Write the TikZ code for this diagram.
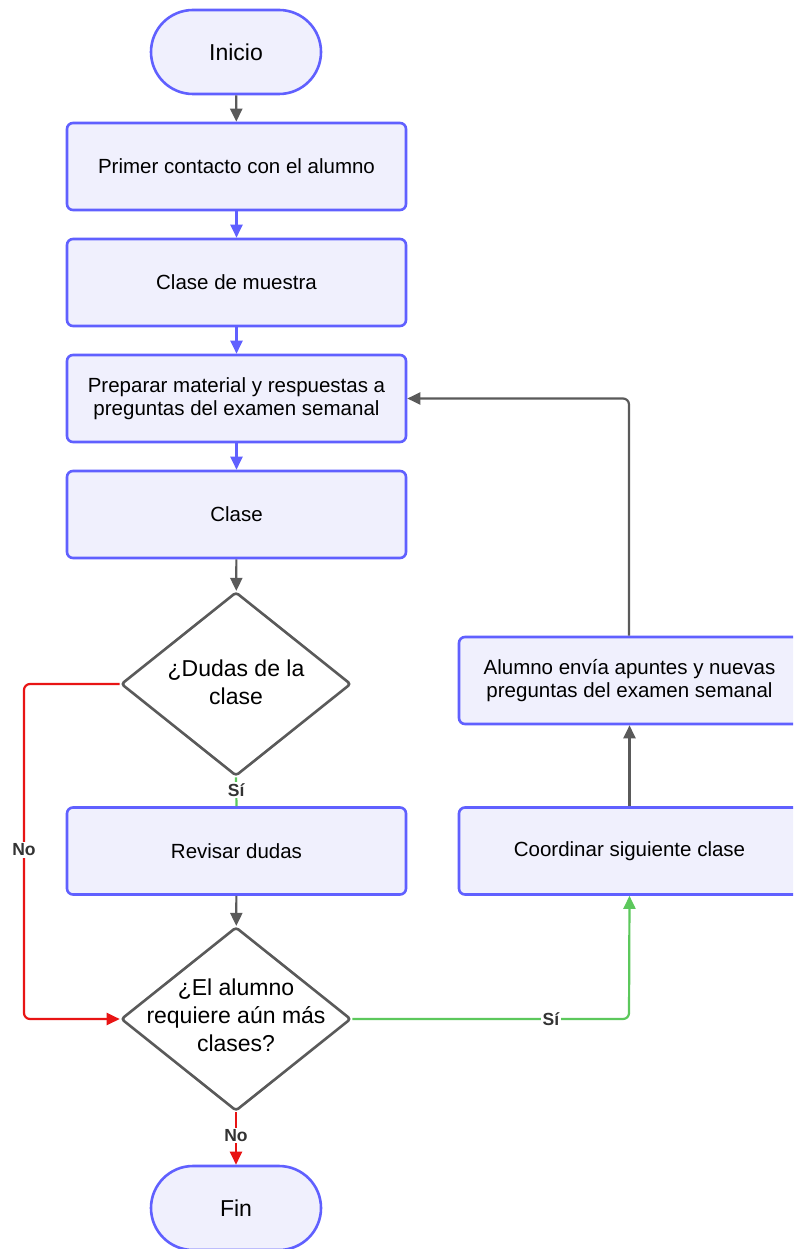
\documentclass[tikz,border=0pt]{standalone}
\usepackage{fontspec}
\setmainfont{Liberation Sans}
\usetikzlibrary{arrows.meta,shapes.geometric}
\definecolor{bstroke}{RGB}{96,96,255}
\definecolor{bfill}{RGB}{240,240,253}
\definecolor{gline}{RGB}{90,90,90}
\definecolor{rline}{RGB}{232,20,20}
\definecolor{grline}{RGB}{92,200,92}
\definecolor{lbl}{RGB}{51,51,51}
\tikzset{
  procbox/.style={draw=bstroke, fill=bfill, line width=2.6pt, rounded corners=6pt,
    minimum width=339pt, minimum height=87pt, align=center, inner sep=0pt,
    font=\fontsize{20.5}{23.5}\selectfont},
  termbox/.style={draw=bstroke, fill=bfill, line width=2.6pt, rounded corners=42pt,
    minimum width=170pt, minimum height=84pt, inner sep=0pt,
    font=\fontsize{23}{27}\selectfont},
  decis/.style={diamond, draw=gline, fill=white, line width=2.6pt, rounded corners=3pt,
    minimum width=230pt, minimum height=184pt, inner sep=0pt},
  dtext/.style={align=center, font=\fontsize{23}{28}\selectfont, inner sep=0pt},
  conn/.style={line width=2.2pt, -{Triangle[length=13pt,width=12pt]}},
  connbare/.style={line width=2.2pt},
  elbl/.style={fill=white, text=lbl, font=\bfseries\fontsize{17.5}{20}\selectfont, inner sep=1.5pt},
}
\begin{document}
\begin{tikzpicture}[x=1pt,y=-1pt]
\clip (0,0) rectangle (793,1249);
\fill[white] (0,0) rectangle (793,1249);

\node[termbox] (ini) at (236,52) {Inicio};
\node[procbox] (b1) at (236.5,166.5) {Primer contacto con el alumno};
\node[procbox] (b2) at (236.5,282.5) {Clase de muestra};
\node[procbox] (b3) at (236.5,398.5) {Preparar material y respuestas a\\preguntas del examen semanal};
\node[procbox] (b4) at (236.5,514.5) {Clase};
\node[decis] (d1) at (236,684) {};
\node[dtext] (d1t) at (236,682) {¿Dudas de la\\clase};
\node[procbox] (b5) at (236.5,851) {Revisar dudas};
\node[decis] (d2) at (236,1019) {};
\node[dtext] (d2t) at (236,1015) {¿El alumno\\requiere aún más\\clases?};
\node[termbox] (fin) at (236,1208) {Fin};
\node[procbox, minimum width=341pt] (ra) at (629.5,680.5) {Alumno envía apuntes y nuevas\\preguntas del examen semanal};
\node[procbox, minimum width=341pt] (rc) at (629.5,851) {Coordinar siguiente clase};

\coordinate (lt) at (629,398.5);
\coordinate (nl1) at (24,684);
\coordinate (nl2) at (24,1019);
\coordinate (gr) at (629,1019);

\draw[conn, gline] (ini) -- (b1);
\draw[conn, bstroke] (b1) -- (b2);
\draw[conn, bstroke] (b2) -- (b3);
\draw[conn, bstroke] (b3) -- (b4);
\draw[conn, gline] (b4) -- (d1);
\draw[connbare, grline] (d1.south) -- (b5.north) node[elbl, pos=0.45] {Sí};
\draw[conn, gline] (b5) -- (d2);
\draw[conn, rline, rounded corners=6pt] (d1.west) -- (nl1) -- (nl2) -- (d2.west);
\node[elbl] (nolbl) at (24,850) {No};
\draw[conn, grline, rounded corners=6pt] (d2.east) -- (gr) -- (rc.south);
\node[elbl] (silbl) at (551,1019) {Sí};
\draw[conn, rline] (d2.south) -- (fin.north) node[elbl, pos=0.45] {No};
\draw[conn, gline] (rc) -- (ra);
\draw[conn, gline, rounded corners=6pt] (ra.north -| lt) -- (lt) -- (b3.east);
\end{tikzpicture}
\end{document}
